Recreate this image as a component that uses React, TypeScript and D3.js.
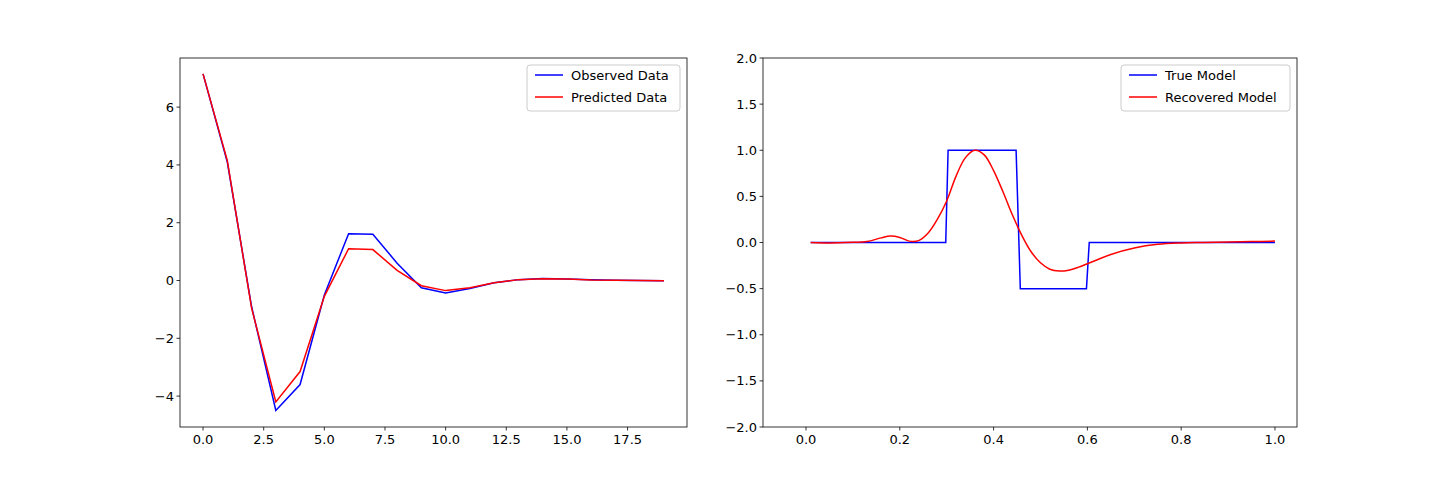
import * as d3 from "d3";

const obsX = d3.range(20);
const observed = [7.15, 4.1, -0.9, -4.5, -3.6, -0.5, 1.62, 1.6, 0.6, -0.25, -0.43, -0.28, -0.08, 0.03, 0.07, 0.05, 0.03, 0.01, 0, -0.01];
const predicted = [7.15, 4.15, -0.95, -4.2, -3.15, -0.55, 1.1, 1.07, 0.35, -0.18, -0.35, -0.25, -0.08, 0.03, 0.06, 0.05, 0.02, 0.01, 0, -0.01];

const trueX = [0.01, 0.298, 0.303, 0.448, 0.457, 0.598, 0.604, 1.0];
const trueY = [0, 0, 1, 1, -0.5, -0.5, 0, 0];

const recX = [0.01, 0.05, 0.1, 0.13, 0.16, 0.18, 0.2, 0.22, 0.24, 0.26, 0.28, 0.3, 0.32, 0.34, 0.36, 0.38, 0.4, 0.42, 0.44, 0.46, 0.48, 0.5, 0.52, 0.54, 0.56, 0.58, 0.6, 0.62, 0.65, 0.7, 0.75, 0.8, 0.85, 0.9, 0.95, 1.0];
const recY = [0, -0.005, 0.002, 0.01, 0.05, 0.07, 0.055, 0.015, 0.02, 0.1, 0.25, 0.45, 0.72, 0.92, 1.0, 0.95, 0.78, 0.55, 0.3, 0.08, -0.1, -0.22, -0.29, -0.31, -0.3, -0.27, -0.23, -0.19, -0.13, -0.06, -0.02, -0.005, 0, 0.005, 0.01, 0.015];

const leftTicksX = [0, 2.5, 5, 7.5, 10, 12.5, 15, 17.5];
const leftTicksY = [-4, -2, 0, 2, 4, 6];
const rightTicksX = [0, 0.2, 0.4, 0.6, 0.8, 1.0];
const rightTicksY = [-2, -1.5, -1, -0.5, 0, 0.5, 1, 1.5, 2];

const fmtMinus = (s: string) => s.replace("-", "\u2212");

type Series = { xs: number[]; ys: number[]; color: string; label: string; smooth?: boolean };

function Panel({ left, right, top, bottom, xDomain, yDomain, xTicks, yTicks, xFmt, yFmt, series, legendW }: {
  left: number; right: number; top: number; bottom: number;
  xDomain: [number, number]; yDomain: [number, number];
  xTicks: number[]; yTicks: number[];
  xFmt: (v: number) => string; yFmt: (v: number) => string;
  series: Series[]; legendW: number;
}) {
  const x = d3.scaleLinear().domain(xDomain).range([left, right]);
  const y = d3.scaleLinear().domain(yDomain).range([bottom, top]);
  return (
    <g>
      {series.map((s) => {
        const line = d3.line<number>()
          .x((_, i) => x(s.xs[i]))
          .y((d) => y(d))
          .curve(s.smooth ? d3.curveCatmullRom : d3.curveLinear);
        return <path key={s.label} d={line(s.ys) ?? ""} fill="none" stroke={s.color} strokeWidth={1.5} />;
      })}
      <rect x={left} y={top} width={right - left} height={bottom - top} fill="none" stroke="#000" strokeWidth={0.8} />
      {xTicks.map((t) => (
        <g key={t} transform={`translate(${x(t)},${bottom})`}>
          <line y2={3.5} stroke="#000" strokeWidth={0.8} />
          <text y={17} textAnchor="middle" fontSize={13} fontFamily="DejaVu Sans">{fmtMinus(xFmt(t))}</text>
        </g>
      ))}
      {yTicks.map((t) => (
        <g key={t} transform={`translate(${left},${y(t)})`}>
          <line x2={-3.5} stroke="#000" strokeWidth={0.8} />
          <text x={-6} dy="0.35em" textAnchor="end" fontSize={13} fontFamily="DejaVu Sans">{fmtMinus(yFmt(t))}</text>
        </g>
      ))}
      <g transform={`translate(${right - 7 - legendW},${top + 7})`}>
        <rect width={legendW} height={46} rx={3} fill="#fff" fillOpacity={0.8} stroke="#ccc" />
        {series.map((s, i) => (
          <g key={s.label} transform={`translate(8,${10 + i * 22})`}>
            <line x1={0} x2={28} stroke={s.color} strokeWidth={1.5} />
            <text x={36} dy="0.35em" fontSize={13} fontFamily="DejaVu Sans">{s.label}</text>
          </g>
        ))}
      </g>
    </g>
  );
}

export default function App() {
  return (
    <svg width={1439} height={480} style={{ display: "block", margin: -8 }}>
      <rect width={1439} height={480} fill="#fff" />
      <Panel left={180} right={687} top={58} bottom={427}
        xDomain={[-0.95, 19.95]} yDomain={[-5.07, 7.7]}
        xTicks={leftTicksX} yTicks={leftTicksY}
        xFmt={d3.format(".1f")} yFmt={d3.format("d")}
        legendW={153}
        series={[
          { xs: obsX, ys: observed, color: "#0000ff", label: "Observed Data" },
          { xs: obsX, ys: predicted, color: "#ff0000", label: "Predicted Data" },
        ]} />
      <Panel left={763} right={1297} top={58} bottom={427}
        xDomain={[-0.0917, 1.047]} yDomain={[-2, 2]}
        xTicks={rightTicksX} yTicks={rightTicksY}
        xFmt={d3.format(".1f")} yFmt={d3.format(".1f")}
        legendW={169}
        series={[
          { xs: trueX, ys: trueY, color: "#0000ff", label: "True Model" },
          { xs: recX, ys: recY, color: "#ff0000", label: "Recovered Model", smooth: true },
        ]} />
    </svg>
  );
}
